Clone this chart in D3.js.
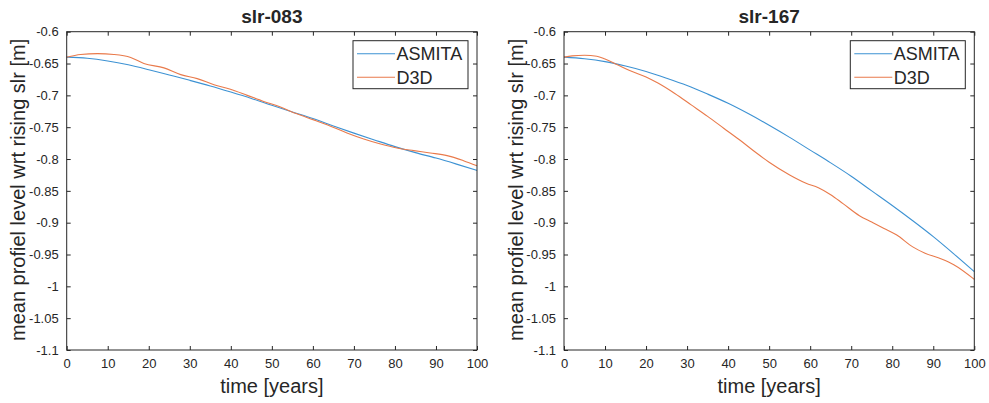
<!DOCTYPE html>
<html>
<head>
<meta charset="utf-8">
<script src="https://cdn.jsdelivr.net/npm/d3@7"></script>
<style>
  html, body { margin: 0; padding: 0; background: #fff; }
  svg { display: block; }
  text { font-family: "Liberation Sans", Arial, Helvetica, sans-serif; fill: #262626; }
</style>
</head>
<body>
<svg id="chart" width="989" height="403"></svg>
<script>
// ---------- data ----------
const xTicks = [0, 10, 20, 30, 40, 50, 60, 70, 80, 90, 100];
const yTicks = [-0.6, -0.65, -0.7, -0.75, -0.8, -0.85, -0.9, -0.95, -1, -1.05, -1.1];
const yTickLabels = ["-0.6", "-0.65", "-0.7", "-0.75", "-0.8", "-0.85", "-0.9", "-0.95", "-1", "-1.05", "-1.1"];
const seriesNames = ["ASMITA", "D3D"];
const panelTitles = ["slr-083", "slr-167"];

// slr-083
const asmita083T = [0, 5, 10, 15, 20, 25, 30, 35, 40, 45, 50, 55, 60, 65, 70, 75, 80, 85, 90, 95, 100];
const asmita083V = [-0.640, -0.6418, -0.646, -0.652, -0.6597, -0.668, -0.6764, -0.6852, -0.6948, -0.7048, -0.7155,
                    -0.726, -0.7364, -0.748, -0.7593, -0.770, -0.7805, -0.790, -0.7985, -0.808, -0.818];
const d3d083T = [0, 3.4, 7.5, 11.5, 15.6, 18.8, 23.7, 27.8, 31.8, 35.9, 39.9, 44, 48, 52.1, 56.1, 60.2, 64.3,
                 68.3, 72.4, 76.5, 80.5, 84.6, 88.6, 92.7, 96.7, 100];
const d3d083V = [-0.640, -0.6358, -0.6345, -0.6358, -0.6405, -0.650, -0.6568, -0.6674, -0.6737, -0.6832, -0.6905,
                 -0.700, -0.7095, -0.7184, -0.729, -0.7385, -0.7484, -0.759, -0.7684, -0.7763, -0.7826, -0.7868,
                 -0.7905, -0.7947, -0.8026, -0.8105];

// slr-167
const asmita167T = [0, 5, 10, 15, 20, 25, 30, 35, 40, 45, 50, 55, 60, 65, 70, 75, 80, 85, 90, 95, 100];
const asmita167V = [-0.640, -0.6425, -0.647, -0.654, -0.6625, -0.673, -0.6845, -0.698, -0.7125, -0.729, -0.747,
                    -0.766, -0.786, -0.806, -0.827, -0.850, -0.873, -0.897, -0.922, -0.949, -0.977];
const d3d167T = [0, 2, 5, 8, 10, 13, 16, 20, 23, 27, 31, 35, 39, 43, 47, 50, 55, 59, 62, 65, 68, 72, 75, 78, 81,
                 85, 88, 92, 95, 100];
const d3d167V = [-0.640, -0.638, -0.637, -0.6385, -0.643, -0.652, -0.661, -0.671, -0.681, -0.697, -0.715, -0.733,
                 -0.752, -0.771, -0.791, -0.805, -0.825, -0.838, -0.845, -0.856, -0.870, -0.889, -0.899, -0.909,
                 -0.919, -0.938, -0.948, -0.957, -0.966, -0.989];

const panelData = [
  [asmita083T.map((t, i) => [t, asmita083V[i]]), d3d083T.map((t, i) => [t, d3d083V[i]])],
  [asmita167T.map((t, i) => [t, asmita167V[i]]), d3d167T.map((t, i) => [t, d3d167V[i]])]
];

// ---------- layout ----------
const colors = ["#3d92d3", "#e97a4b"];
const axisColor = "#262626";
const panels = [
  { left: 66.7, right: 477 },
  { left: 564, right: 974.3 }
];
const plotTop = 31.7, plotBottom = 350;

const svg = d3.select("#chart");

panels.forEach((p, pi) => {
  const x = d3.scaleLinear().domain([0, 100]).range([p.left, p.right]);
  const y = d3.scaleLinear().domain([-1.1, -0.6]).range([plotBottom, plotTop]);
  const g = svg.append("g");

  // data lines
  const line = d3.line().x(d => x(d[0])).y(d => y(d[1])).curve(d3.curveMonotoneX);
  panelData[pi].forEach((s, si) => {
    g.append("path").datum(s)
      .attr("d", line)
      .attr("fill", "none")
      .attr("stroke", colors[si])
      .attr("stroke-width", 1.1);
  });

  // axes (ticks inward)
  const fmt = v => yTickLabels[yTicks.indexOf(v)];
  const xAxis = d3.axisBottom(x).tickValues(xTicks).tickSizeInner(-4).tickSizeOuter(0).tickPadding(9);
  const yAxis = d3.axisLeft(y).tickValues(yTicks).tickFormat(fmt).tickSizeInner(-4).tickSizeOuter(0).tickPadding(8);
  const xTop = d3.axisTop(x).tickValues(xTicks).tickSizeInner(-4).tickSizeOuter(0).tickFormat("");
  const yRight = d3.axisRight(y).tickValues(yTicks).tickSizeInner(-4).tickSizeOuter(0).tickFormat("");

  const styleAxis = sel => {
    sel.select(".domain").remove();
    sel.selectAll("line").attr("stroke", axisColor).attr("stroke-width", 1);
    sel.selectAll("text").attr("fill", axisColor).style("font-size", "13px")
      .style("font-family", '"Liberation Sans", Arial, sans-serif');
  };
  g.append("g").attr("transform", `translate(0,${plotBottom})`).call(xAxis).call(styleAxis);
  g.append("g").attr("transform", `translate(${p.left},0)`).call(yAxis).call(styleAxis);
  g.append("g").attr("transform", `translate(0,${plotTop})`).call(xTop).call(styleAxis);
  g.append("g").attr("transform", `translate(${p.right},0)`).call(yRight).call(styleAxis);

  // box
  g.append("rect")
    .attr("x", p.left).attr("y", plotTop)
    .attr("width", p.right - p.left).attr("height", plotBottom - plotTop)
    .attr("fill", "none").attr("stroke", axisColor).attr("stroke-width", 1);

  const cx = (p.left + p.right) / 2;
  // title
  g.append("text").attr("x", cx).attr("y", 22.7).attr("text-anchor", "middle")
    .style("font-size", "19px").style("font-weight", "bold").attr("fill", "#000").text(panelTitles[pi]);
  // x label
  g.append("text").attr("x", cx).attr("y", 392.5).attr("text-anchor", "middle")
    .style("font-size", "20px").text("time [years]");
  // y label
  g.append("text")
    .attr("transform", `translate(${p.left - 41.5},${(plotTop + plotBottom) / 2 - 1}) rotate(-90)`)
    .attr("text-anchor", "middle")
    .style("font-size", "20px").text("mean profiel level wrt rising slr [m]");

  // legend
  const lx = p.right - 9 - 115, ly = plotTop + 9;
  const lg = g.append("g");
  lg.append("rect").attr("x", lx).attr("y", ly).attr("width", 115).attr("height", 48)
    .attr("fill", "#fff").attr("stroke", axisColor).attr("stroke-width", 1);
  seriesNames.forEach((name, si) => {
    const yy = ly + 13 + si * 23.5;
    lg.append("line").attr("x1", lx + 4).attr("x2", lx + 42).attr("y1", yy).attr("y2", yy)
      .attr("stroke", colors[si]).attr("stroke-width", 1.1);
    lg.append("text").attr("x", lx + 43.5).attr("y", yy + 6.7)
      .style("font-size", "18px").attr("fill", "#000").text(name);
  });
});
</script>
</body>
</html>
